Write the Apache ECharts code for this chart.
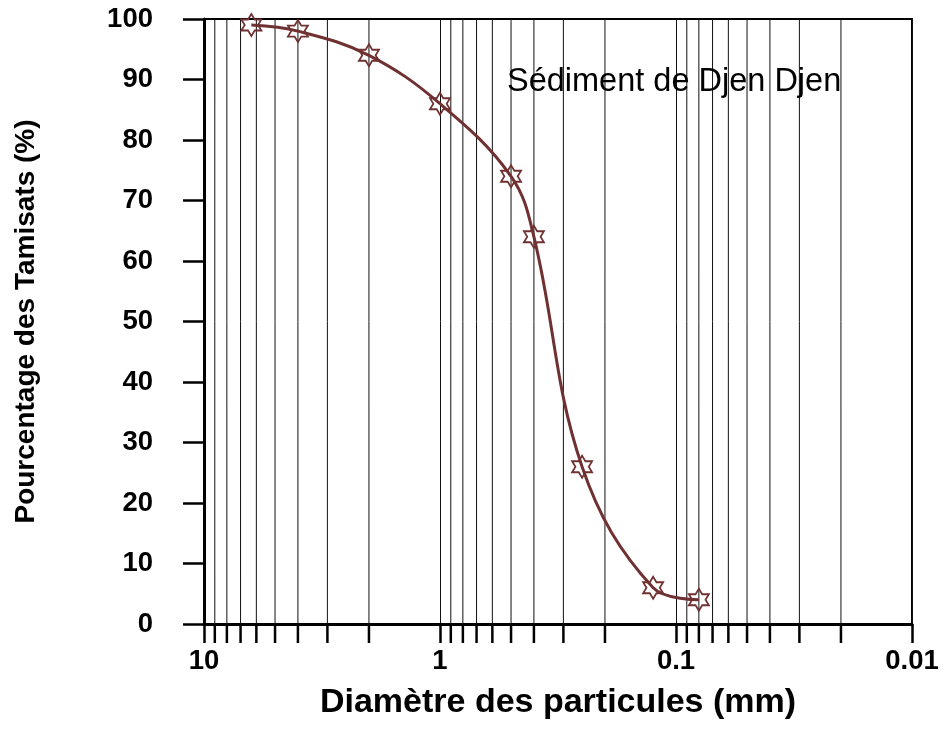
<!DOCTYPE html>
<html>
<head>
<meta charset="utf-8">
<script src="https://cdn.jsdelivr.net/npm/echarts@6/dist/echarts.min.js"></script>
<style>
html,body{margin:0;padding:0;background:#fff;}
#chart{width:943px;height:745px;}
</style>
</head>
<body>
<div id="chart"></div>
<script>
// Grain size (mm) and cumulative passing (%)
const diameters = [6.3, 4, 2, 1, 0.5, 0.4, 0.25, 0.125, 0.08];
const passing   = [99, 98, 94, 86, 74, 64, 26, 6, 4];
const minorTicks = [9, 8, 7, 6, 5, 4, 3, 2,
                    0.9, 0.8, 0.7, 0.6, 0.5, 0.4, 0.3, 0.2,
                    0.09, 0.08, 0.07, 0.06, 0.05, 0.04, 0.03, 0.02];
const xLabels = {0.01: '0.01', 0.1: '0.1', 1: '1', 10: '10'};
const titleText = 'Sédiment de Djen Djen';
const xName = 'Diamètre des particules (mm)';
const yName = 'Pourcentage des Tamisats (%)';

const brown = '#6f3131';
const font = 'Arial, "Liberation Sans", sans-serif';
const hexagram = 'path://M0,-10L2.887,-5L8.66,-5L5.774,0L8.66,5L2.887,5L0,10L-2.887,5L-8.66,5L-5.774,0L-8.66,-5L-2.887,-5Z';

const chart = echarts.init(document.getElementById('chart'), null, {renderer: 'canvas'});
chart.setOption({
  animation: false,
  backgroundColor: '#fff',
  title: {
    text: titleText,
    left: 502, top: 61,
    textStyle: {fontFamily: font, fontWeight: 'normal', fontSize: 32.5, color: '#000'}
  },
  grid: {
    left: 204, right: 31, top: 19, bottom: 121,
    show: true, borderColor: '#000', borderWidth: 2, backgroundColor: 'transparent'
  },
  xAxis: {
    type: 'log', logBase: 10, min: 0.01, max: 10, inverse: true,
    name: xName, nameLocation: 'middle', nameGap: 62,
    nameTextStyle: {fontFamily: font, fontWeight: 'bold', fontSize: 34, color: '#000'},
    axisLine: {show: true, lineStyle: {color: '#000', width: 3}},
    axisTick: {show: true, inside: false, length: 19, lineStyle: {color: '#000', width: 2.5}},
    axisLabel: {
      margin: 23, fontFamily: font, fontWeight: 'bold', fontSize: 27.5, color: '#000',
      formatter: v => xLabels[+v.toPrecision(3)] || ''
    },
    splitLine: {show: true, lineStyle: {color: '#111', width: 1}},
    minorTick: {show: false}
  },
  yAxis: {
    type: 'value', min: 0, max: 100, interval: 10,
    name: yName, nameLocation: 'middle', nameGap: 164, nameRotate: 90,
    nameTextStyle: {fontFamily: font, fontWeight: 'bold', fontSize: 28, color: '#000'},
    axisLine: {show: true, lineStyle: {color: '#000', width: 3}},
    axisTick: {show: true, inside: false, length: 21, lineStyle: {color: '#000', width: 2.5}},
    axisLabel: {margin: 51, fontFamily: font, fontWeight: 'bold', fontSize: 27.5, color: '#000'},
    splitLine: {show: false}
  },
  series: [
    {
      type: 'custom',
      silent: true,
      z: 1,
      clip: false,
      data: minorTicks.map(v => [v, 0]),
      encode: {x: 0, y: 1},
      renderItem: function (params, api) {
        const v = api.value(0);
        const p0 = api.coord([v, 0]);
        const p1 = api.coord([v, 100]);
        return {
          type: 'group',
          children: [
            {type: 'line', shape: {x1: p0[0], y1: p0[1], x2: p1[0], y2: p1[1]},
             style: {stroke: '#111', lineWidth: 1}},
            {type: 'line', shape: {x1: p0[0], y1: p0[1], x2: p0[0], y2: p0[1] + 19},
             style: {stroke: '#000', lineWidth: 2.5}}
          ]
        };
      }
    },
    {
      type: 'line',
      z: 3,
      data: diameters.map((d, i) => [d, passing[i]]),
      smooth: 0.38,
      symbol: hexagram,
      symbolSize: [20, 22],
      showAllSymbol: true,
      lineStyle: {color: brown, width: 3},
      itemStyle: {color: 'rgba(255,255,255,0)', borderColor: brown, borderWidth: 1.8}
    }
  ]
});
</script>
</body>
</html>
